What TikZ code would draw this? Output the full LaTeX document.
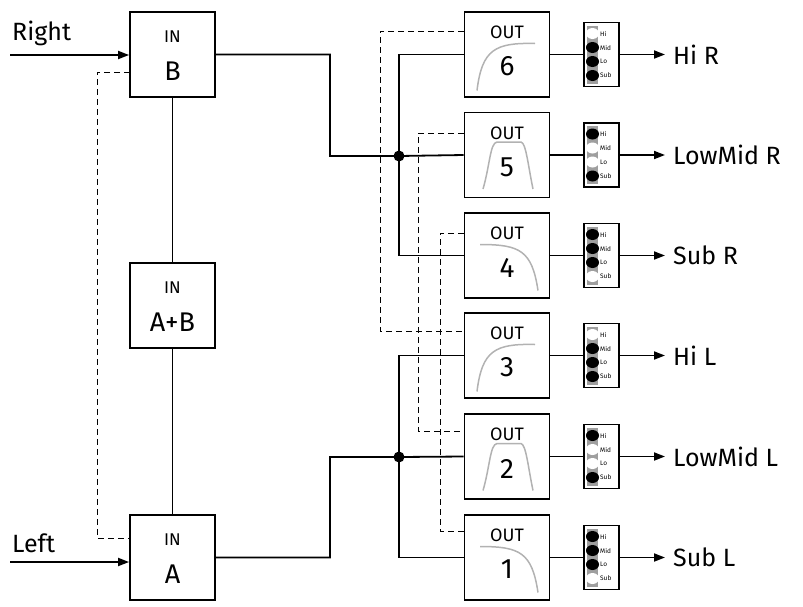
\documentclass[tikz,border=0pt]{standalone}
\usepackage{fontspec}
\setmainfont{Fira Sans}
\usetikzlibrary{arrows.meta}
\begin{document}
\begin{tikzpicture}[x=1pt,y=-1pt,
  box/.style={draw,line width=1.8pt,minimum width=85pt,minimum height=85pt,inner sep=0pt},
  wire/.style={line width=1.8pt},
  dsh/.style={line width=1pt,dash pattern=on 6pt off 4pt},
  curve/.style={gray!60,line width=1.5pt},
  arr/.style={wire,-{Triangle[length=11pt,width=8pt]}},
  lbl/.style={font=\fontsize{25}{25}\selectfont,anchor=west,inner sep=0pt}]
\useasboundingbox (0,0) rectangle (803,606);
% input boxes
\node[box] (B) at (172.5,54.5) {};
\node[font=\fontsize{17}{17}\selectfont] at (172.5,37) {IN};
\node[font=\fontsize{27}{27}\selectfont] at (172.5,71) {B};
\node[box] (AB) at (172.5,305.5) {};
\node[font=\fontsize{17}{17}\selectfont] at (172.5,288) {IN};
\node[font=\fontsize{27}{27}\selectfont] at (172.5,322) {A+B};
\node[box] (A) at (172.5,557.5) {};
\node[font=\fontsize{17}{17}\selectfont] at (172.5,540) {IN};
\node[font=\fontsize{27}{27}\selectfont] at (172.5,574) {A};
\draw[wire] (B) -- (AB) -- (A);
\node[lbl] (tR) at (12,33) {Right};
\node[lbl] (tL) at (12,543) {Left};
\coordinate (r0) at (10,55); \coordinate (l0) at (10,562);
\draw[arr] (r0) -- (r0 -| B.west);
\draw[arr] (l0) -- (l0 -| A.west);
\coordinate (bd) at (130,72); \coordinate (ad) at (130,538);
\draw[dsh] (bd) -- (97,72) -- (97,538) -- (ad);
% outputs
\foreach \n/\y/\t in {6/54.5/h,5/155/b,4/255.5/l,3/355.5/h,2/456.5/b,1/557.5/l}{
  \node[box] (O\n) at (507,\y) {};
  \node[font=\fontsize{18}{18}\selectfont] at (507,\y-22) {OUT};
  \node[font=\fontsize{28}{28}\selectfont] at (507,\y+12) {\n};
  \if h\t
    \draw[curve] (477,\y+36) .. controls (482,\y-5) and (495,\y-12) .. (535,\y-11);
  \fi
  \if b\t
    \draw[curve] (483,\y+34) .. controls (490,\y+10) and (490,\y-12) .. (497,\y-13) -- (521,\y-13) .. controls (526,\y-12) and (528,\y+10) .. (533,\y+34);
  \fi
  \if l\t
    \draw[curve] (480,\y-11) .. controls (520,\y-11) and (532,\y-5) .. (538,\y+35);
  \fi
  \node[draw,line width=1.3pt,minimum width=35pt,minimum height=64pt,inner sep=0pt] (P\n) at (601.5,\y) {};
  \fill[gray!75] (587,\y-29) rectangle (598,\y+29);
  \foreach \k/\s in {0/Hi,1/Mid,2/Lo,3/Sub}{
    \pgfmathsetmacro\yy{\y-21+14*\k}
    \node[font=\fontsize{6.5}{6.5}\selectfont,anchor=west,inner sep=0pt] at (600,\yy) {\s};
  }
  \draw[wire] (O\n) -- (P\n);
  \coordinate (e\n) at (665,\y);
  \draw[arr] (P\n) -- (e\n);
}
% indicator dots
\foreach \n/\y/\a/\b/\c/\d in {6/54.5/white/black/black/black,5/155/black/white/white/black,4/255.5/black/black/black/white,3/355.5/white/black/black/black,2/456.5/black/white/white/black,1/557.5/black/black/black/white}{
  \fill[\a] (592.5,\y-21) ellipse (6.5pt and 5.5pt);
  \fill[\b] (592.5,\y-7) ellipse (6.5pt and 5.5pt);
  \fill[\c] (592.5,\y+7) ellipse (6.5pt and 5.5pt);
  \fill[\d] (592.5,\y+21) ellipse (6.5pt and 5.5pt);
}
\node[lbl] at (673,54.5) {Hi R};
\node[lbl] at (673,155) {LowMid R};
\node[lbl] at (673,255.5) {Sub R};
\node[lbl] at (673,355.5) {Hi L};
\node[lbl] at (673,456.5) {LowMid L};
\node[lbl] at (673,557.5) {Sub L};
% signal wires
\coordinate (j1) at (399,156); \coordinate (j2) at (399,457);
\draw[wire] (B.east) -- (330,54.5) -- (330,156) -- (j1) -- (O5.west);
\draw[wire] (O6.west) -- (399,54.5) -- (399,255.5) -- (O4.west);
\draw[wire] (A.east) -- (330,557.5) -- (330,457) -- (j2) -- (O2.west);
\draw[wire] (O3.west) -- (399,355.5) -- (399,557.5) -- (O1.west);
\fill (j1) circle (5.5pt); \fill (j2) circle (5.5pt);
% dashed links
\draw[dsh] (464,31) -- (380,31) -- (380,331) -- (464,331);
\draw[dsh] (464,133) -- (418,133) -- (418,431) -- (464,431);
\draw[dsh] (464,233) -- (440,233) -- (440,531) -- (464,531);
\end{tikzpicture}
\end{document}
